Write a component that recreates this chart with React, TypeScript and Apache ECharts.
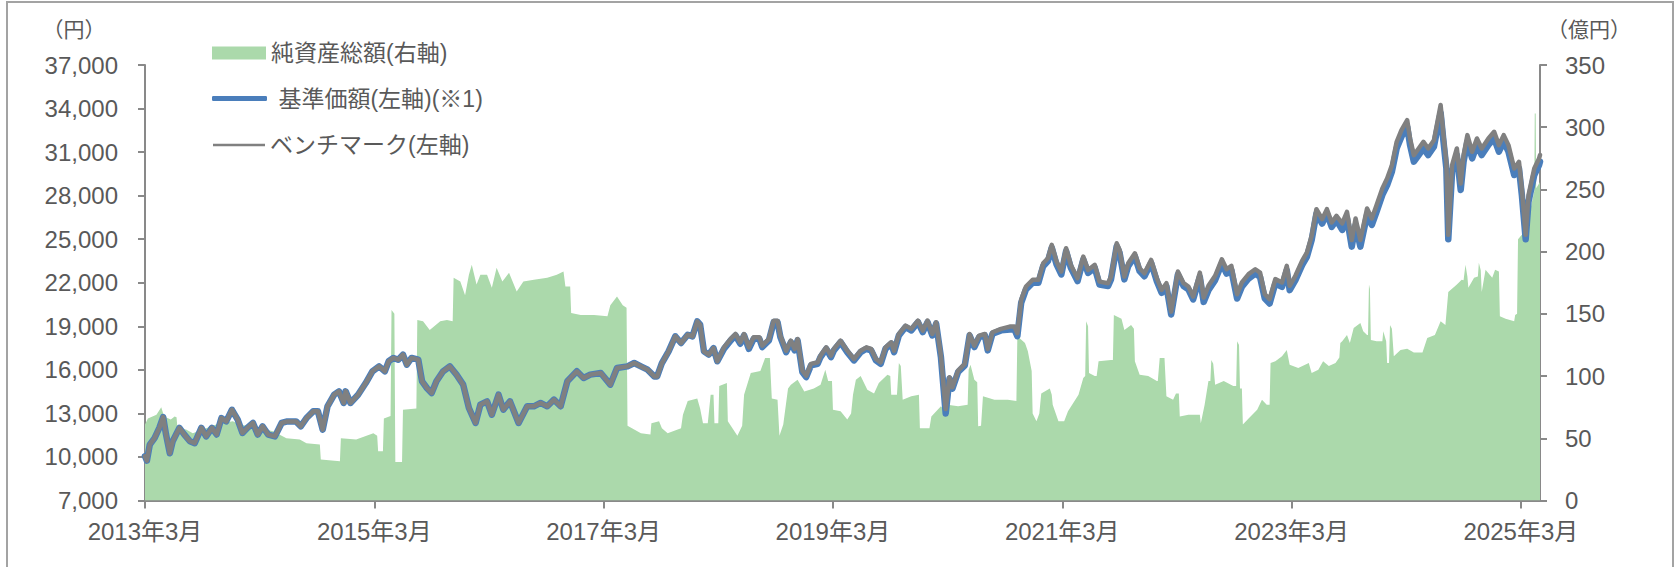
import React, { useEffect, useRef } from 'react';
import * as echarts from 'echarts';

// ---- tick labels ----
const xTickLabels = ['2013年3月', '2015年3月', '2017年3月', '2019年3月', '2021年3月', '2023年3月', '2025年3月'];
const leftTickValues = [7000, 10000, 13000, 16000, 19000, 22000, 25000, 28000, 31000, 34000, 37000];
const rightTickValues = [0, 50, 100, 150, 200, 250, 300, 350];
const monthCount = 147; // monthly slots: 2013年3月 ... 2025年5月

// ---- legend / series names ----
const NAME_ASSETS = '純資産総額(右軸)';
const NAME_NAV = '基準価額(左軸)(※1)';
const NAME_BM = 'ベンチマーク(左軸)';

// ---- line data: [months since 2013年3月, 基準価額, ベンチマーク] ----
const navPoints: [number, number, number][] = [
  [0, 10050, 10050], [0.2, 9750, 9750], [0.5, 10850, 10850], [1.0, 11300, 11300], [1.5, 12000, 12000],
  [1.9, 12750, 12750], [2.2, 11550, 11550], [2.6, 10250, 10250], [2.9, 11080, 11080], [3.6, 12000, 12000],
  [4.1, 11550, 11550], [4.7, 11080, 11080], [5.2, 10950, 10950], [5.9, 12000, 12000], [6.4, 11420, 11420],
  [7.0, 12000, 12000], [7.5, 11550, 11550], [8.0, 12680, 12680], [8.5, 12450, 12450], [9.1, 13250, 13250],
  [9.7, 12570, 12570], [10.2, 11650, 11650], [10.7, 12000, 12000], [11.3, 12340, 12340], [11.8, 11540, 11540],
  [12.3, 12110, 12110], [12.9, 11540, 11540], [13.6, 11420, 11420], [14.3, 12340, 12340], [14.9, 12450, 12450],
  [15.8, 12450, 12450], [16.3, 12110, 12110], [16.9, 12680, 12680], [17.6, 13140, 13140], [18.1, 13140, 13140],
  [18.6, 11880, 11880], [19.1, 13490, 13490], [19.8, 14290, 14290], [20.3, 14520, 14520], [20.8, 13720, 13720],
  [21.0, 14520, 14520], [21.5, 13720, 13720], [22.3, 14290, 14290], [23.1, 15090, 15090], [23.8, 15900, 15900],
  [24.5, 16240, 16240], [25.1, 15900, 15900], [25.5, 16590, 16590], [26.0, 16820, 16820], [26.5, 16700, 16700],
  [27.0, 17050, 17050], [27.4, 16360, 16360], [27.9, 16820, 16820], [28.6, 16700, 16700], [29.0, 15210, 15210],
  [29.5, 14750, 14750], [30.0, 14400, 14400], [30.5, 15210, 15210], [31.2, 15900, 15900], [31.9, 16240, 16240],
  [32.6, 15670, 15670], [33.3, 14980, 14980], [33.9, 13370, 13370], [34.6, 12340, 12340], [35.1, 13600, 13600],
  [35.8, 13830, 13830], [36.3, 12910, 12910], [37.0, 14290, 14290], [37.5, 13260, 13260], [38.2, 13830, 13830],
  [39.1, 12340, 12340], [40.0, 13490, 13490], [40.7, 13490, 13490], [41.4, 13720, 13720], [42.1, 13490, 13490],
  [42.8, 13950, 13950], [43.5, 13490, 13490], [44.2, 15210, 15210], [45.2, 15900, 15900], [45.9, 15440, 15440],
  [46.6, 15670, 15670], [47.7, 15780, 15780], [48.7, 14980, 14980], [49.4, 16130, 16130], [50.5, 16240, 16240],
  [51.2, 16470, 16470], [51.9, 16240, 16240], [52.6, 16010, 16010], [53.3, 15550, 15550], [53.6, 15550, 15550],
  [54.1, 16470, 16470], [54.8, 17270, 17270], [55.5, 18310, 18310], [56.1, 17850, 17850], [56.8, 18420, 18420],
  [57.3, 18310, 18310], [57.8, 19340, 19340], [58.1, 19110, 19110], [58.5, 17270, 17270], [59.0, 17050, 17050],
  [59.5, 17500, 17500], [59.9, 16590, 16590],
  [60.6, 17450, 17550], [61.3, 18030, 18130], [61.8, 18370, 18470], [62.3, 17800, 17900], [62.7, 18370, 18470],
  [63.2, 17450, 17550], [63.7, 18140, 18240], [64.3, 18140, 18240], [64.6, 17570, 17670], [65.3, 18030, 18130],
  [65.8, 19290, 19390], [66.2, 19290, 19390], [66.5, 18260, 18360], [67.1, 17220, 17320], [67.6, 17910, 18010],
  [68.0, 17340, 17440], [68.3, 18030, 18130], [68.8, 15850, 15950], [69.2, 15500, 15600], [69.7, 16310, 16410],
  [70.4, 16420, 16520], [70.7, 16880, 16980], [71.3, 17450, 17550], [71.8, 16880, 16980], [72.1, 17340, 17440],
  [72.8, 17910, 18010], [73.5, 17220, 17320], [74.2, 16650, 16750], [74.9, 17220, 17320], [75.5, 17450, 17550],
  [76.0, 17340, 17440], [76.5, 16650, 16750], [77.0, 16420, 16520], [77.5, 17450, 17550], [78.1, 17800, 17900],
  [78.4, 17220, 17320], [78.9, 18370, 18470], [79.6, 18950, 19050], [80.2, 18720, 18820], [80.9, 19290, 19390],
  [81.4, 18600, 18700], [81.9, 19290, 19390], [82.4, 18370, 18470], [82.8, 19180, 19280], [83.3, 16880, 16980],
  [83.8, 13000, 13300], [84.2, 15390, 15490], [84.5, 14700, 14800], [85.1, 15850, 15950], [85.8, 16310, 16410],
  [86.3, 18370, 18470], [86.8, 17570, 17670], [87.3, 18260, 18360], [87.9, 18370, 18470], [88.2, 17340, 17440],
  [88.7, 18490, 18590], [89.6, 18720, 18820],
  [90.5, 18780, 18980], [91.0, 18780, 18980], [91.3, 18320, 18520], [91.7, 20620, 20820], [92.2, 21540, 21740],
  [92.9, 22000, 22200], [93.5, 22000, 22200], [94.0, 23140, 23340], [94.5, 23490, 23690], [94.9, 24410, 24610],
  [95.4, 23260, 23460], [95.9, 22570, 22770], [96.4, 24180, 24380], [96.9, 23030, 23230], [97.6, 22110, 22310],
  [98.2, 23600, 23800], [98.7, 22680, 22880], [99.4, 23030, 23230], [99.9, 21880, 22080], [100.8, 21770, 21970],
  [101.1, 22230, 22430], [101.7, 24520, 24720], [102.0, 24060, 24260], [102.5, 22230, 22430], [102.9, 23140, 23340],
  [103.6, 23830, 24030], [104.1, 22800, 23000], [104.6, 22450, 22650], [105.3, 23370, 23570], [105.9, 22110, 22310],
  [106.4, 21310, 21510], [106.9, 21770, 21970], [107.4, 19810, 20010], [108.1, 22570, 22770], [108.7, 21770, 21970],
  [109.2, 21540, 21740], [109.7, 20850, 21050],
  [110.4, 22400, 22700], [110.8, 20680, 20980], [111.3, 21490, 21790], [112.0, 22180, 22480], [112.7, 23320, 23620],
  [113.2, 22630, 22930], [113.7, 22860, 23160], [114.3, 20910, 21210], [114.8, 21720, 22020], [115.5, 22290, 22590],
  [116.2, 22630, 22930], [116.7, 22400, 22700], [117.2, 20910, 21210], [117.7, 20570, 20870], [118.3, 21950, 22250],
  [119.0, 21720, 22020], [119.5, 22860, 23160], [119.8, 21490, 21790], [120.4, 22180, 22480], [121.1, 23210, 23510],
  [121.6, 23780, 24080], [122.1, 24930, 25230], [122.6, 26770, 27070], [123.2, 26080, 26380], [123.7, 26770, 27070],
  [124.2, 25850, 26150], [124.7, 26310, 26610],
  [125.3, 25640, 26090], [125.8, 26440, 26890], [126.3, 24490, 24940], [126.7, 25980, 26430], [127.2, 24490, 24940],
  [127.9, 26670, 27120], [128.4, 25980, 26430], [128.9, 26900, 27350], [129.5, 28050, 28500], [130.0, 28730, 29180],
  [130.5, 29650, 30100], [131.0, 31260, 31710], [131.5, 32060, 32510], [132.1, 32750, 33200], [132.4, 31490, 31940],
  [132.8, 30340, 30790], [133.3, 30800, 31250], [133.8, 31260, 31710], [134.3, 30800, 31250], [134.9, 31370, 31820],
  [135.2, 32410, 32860], [135.6, 33700, 34250], [135.9, 31720, 32170], [136.2, 29880, 30330], [136.4, 25000, 25300],
  [136.8, 29650, 30100], [137.3, 30800, 31250], [137.7, 28390, 28840], [138.0, 30340, 30790], [138.4, 31720, 32170],
  [138.9, 30570, 31020], [139.4, 31490, 31940], [139.9, 30800, 31250], [140.6, 31490, 31940], [141.2, 31950, 32400],
  [141.7, 31030, 31480], [142.2, 31720, 32170], [142.7, 31030, 31480], [143.3, 29420, 29870], [143.8, 29880, 30330],
  [144.1, 28050, 28500], [144.5, 25000, 25300], [144.8, 27590, 28040], [145.4, 29420, 29870], [145.9, 30110, 30560],
  [146.0, 30350, 30800],
];

// ---- net assets (億円): [months since 2013年3月, value] ----
const netAssetsPoints: [number, number][] = [
  [0, 61], [0.3, 66], [1.2, 69], [1.7, 75], [2.0, 67.6], [2.7, 65], [3.1, 67.6], [3.3, 67], [3.4, 58], [4.3, 57],
  [5.0, 54], [6.4, 58], [7.8, 62], [9.2, 63.6], [9.9, 61], [10.9, 59.6], [12.0, 58], [13.4, 55.6], [14.8, 50],
  [16.2, 49], [16.9, 46], [18.3, 45], [18.4, 33], [20.4, 31.5], [20.5, 50], [22.1, 49], [23.9, 54], [24.3, 52],
  [24.4, 39.5], [24.9, 39.5], [25.0, 66], [25.7, 68], [25.8, 153], [26.1, 150], [26.2, 31], [26.9, 31], [27.0, 73],
  [28.4, 74], [28.5, 145], [29.1, 144], [29.8, 137], [30.9, 144], [31.6, 145], [32.2, 144], [32.3, 179], [33.0, 176],
  [33.5, 165], [33.9, 181.5], [34.2, 189.5], [34.7, 173.5], [35.1, 181.5], [35.8, 181.5], [36.3, 171], [36.8, 187],
  [37.4, 176], [38.1, 183], [38.9, 168], [39.6, 176], [40.7, 177.5], [42.1, 179], [43.1, 181.5], [43.8, 184],
  [44.0, 172], [44.5, 172], [44.6, 150.6], [45.6, 149], [47.0, 149], [48.4, 148], [48.7, 157], [49.4, 164],
  [50.0, 157], [50.4, 155], [50.5, 60], [51.9, 54], [52.9, 53], [53.0, 62], [53.8, 63.6], [54.1, 58], [54.7, 54],
  [56.1, 58], [56.3, 69], [56.8, 80], [57.8, 82], [58.1, 74], [58.4, 62], [58.9, 62], [59.2, 85], [59.5, 85],
  [59.6, 62], [60.0, 62], [60.1, 92], [60.9, 94.5], [61.0, 63.6], [62.0, 52], [62.5, 60], [62.7, 85], [63.4, 102.5],
  [64.4, 104], [64.9, 114.5], [65.4, 114.5], [65.6, 82], [66.2, 81], [66.4, 52], [66.8, 61], [67.3, 90], [67.6, 93],
  [68.3, 97], [69.0, 87.7], [70.0, 90], [70.7, 93], [71.2, 105], [71.5, 96], [71.9, 96], [72.0, 73], [72.8, 71.7],
  [73.5, 65], [73.9, 70], [74.1, 85], [74.4, 97], [74.9, 100], [75.6, 89], [76.3, 86], [76.8, 94.5], [77.7, 101],
  [78.0, 100], [78.1, 85], [78.7, 85], [78.9, 110.5], [79.1, 108], [79.3, 81], [80.2, 83.7], [81.0, 85], [81.1, 58],
  [82.1, 58], [82.3, 67.6], [83.3, 75.7], [83.7, 71.7], [84.0, 77], [85.1, 75.7], [86.1, 77], [86.2, 105],
  [86.4, 109], [86.8, 97], [87.1, 95], [87.2, 59.6], [87.5, 60], [87.7, 83.7], [88.9, 81], [90.3, 81], [91.2, 80],
  [91.3, 132], [92.1, 126.6], [92.4, 120], [92.8, 104], [92.9, 70], [93.3, 63.6], [93.6, 70], [93.8, 86], [94.7, 90],
  [94.9, 85], [95.0, 77], [95.6, 63.6], [96.2, 63.6], [96.6, 71.7], [97.7, 85], [98.2, 98.5], [98.4, 100], [98.5, 144],
  [98.7, 140], [98.8, 102.5], [99.4, 100], [99.6, 100], [99.8, 112], [101.1, 113], [101.3, 113], [101.4, 149],
  [102.2, 146], [102.5, 137], [103.2, 141], [103.5, 138], [103.6, 112], [104.1, 101], [105.0, 100], [105.9, 96],
  [106.0, 96], [106.2, 114.5], [106.7, 114.5], [106.9, 83.7], [107.6, 81], [107.9, 86], [108.2, 86], [108.3, 67.6],
  [109.2, 69], [110.4, 69], [110.5, 62], [110.9, 77], [111.3, 96], [111.5, 96], [111.6, 113], [111.8, 110], [112.0, 93],
  [112.9, 96], [113.9, 92], [114.2, 92], [114.3, 128], [114.5, 125], [114.6, 90], [114.8, 90], [114.9, 61],
  [115.5, 66], [116.4, 73], [116.9, 81], [117.4, 77], [117.7, 77], [117.8, 110.5], [118.3, 112], [119.0, 116],
  [119.5, 121], [119.8, 109], [120.7, 106.5], [121.8, 110.5], [122.1, 102.5], [122.8, 105], [123.3, 112], [123.9, 108],
  [124.6, 110.5], [125.0, 115], [125.1, 126.6], [125.3, 128], [125.8, 133], [126.1, 126.6], [126.5, 138.6],
  [127.2, 142.7], [127.5, 136], [127.9, 133], [128.0, 133], [128.1, 173.5], [128.2, 170], [128.3, 129], [128.9, 128],
  [129.5, 128], [129.6, 136], [129.9, 128], [130.0, 110.5], [130.2, 110.5], [130.3, 141], [130.5, 138], [130.7, 116],
  [131.4, 121], [132.1, 122], [132.8, 119], [133.7, 119], [134.2, 130.6], [135.0, 133], [135.6, 144], [136.1, 141],
  [136.4, 167.6], [137.3, 173.5], [137.8, 177.5], [138.0, 177], [138.2, 189.5], [138.4, 180], [138.5, 171],
  [139.1, 179], [139.5, 180], [139.6, 191], [139.8, 185], [139.9, 167.6], [140.3, 185.5], [141.0, 179], [141.3, 185.5],
  [141.7, 184], [141.8, 148], [142.4, 146], [143.3, 144], [143.4, 149], [143.6, 150], [143.7, 210], [144.1, 213.6],
  [144.5, 216], [144.8, 227], [145.3, 245], [145.4, 248.5], [145.45, 311], [145.55, 311], [145.6, 251], [146.0, 256],
];

const FONT = "'Liberation Sans', Arial, 'Noto Sans CJK JP', sans-serif";
const TEXT = '#595959';
const AXIS = '#898989';
const GREEN = '#abd9ab';
const BLUE = '#4a7ebb';
const GRAY = '#808080';

function buildCategories(): string[] {
  const out: string[] = [];
  for (let i = 0; i < monthCount; i++) {
    if (i % 24 === 0) {
      out.push(xTickLabels[i / 24]);
    } else {
      const total = 2 + i; // 0-based month index from Jan 2013
      const y = 2013 + Math.floor(total / 12);
      const m = (total % 12) + 1;
      out.push(`${y}年${m}月`);
    }
  }
  return out;
}

export default function App() {
  const ref = useRef<HTMLDivElement>(null);

  useEffect(() => {
    document.body.style.margin = '0';
    if (!ref.current) return;
    const chart = echarts.init(ref.current, undefined, { renderer: 'svg' });
    const categories = buildCategories();
    const axisLineStyle = { color: AXIS, width: 2 };
    const legendText = { color: TEXT, fontSize: 23, fontFamily: FONT, lineHeight: 23 };

    const option: any = {
      animation: false,
      textStyle: { fontFamily: FONT },
      grid: { left: 145, right: 136, top: 65, bottom: 66.5, containLabel: false, outerBoundsMode: 'none' },
      xAxis: [
        {
          type: 'category',
          data: categories,
          boundaryGap: false,
          position: 'bottom',
          axisLine: { show: true, onZero: false, lineStyle: axisLineStyle },
          axisTick: { show: true, interval: (i: number) => i % 24 === 0, length: 8, lineStyle: axisLineStyle },
          axisLabel: {
            interval: (i: number) => i % 24 === 0,
            color: TEXT,
            fontSize: 24,
            fontFamily: FONT,
            margin: 19,
          },
          splitLine: { show: false },
        },
        { type: 'value', min: 0, max: monthCount - 1, show: false },
      ],
      yAxis: [
        {
          type: 'value',
          position: 'left',
          min: leftTickValues[0],
          max: leftTickValues[leftTickValues.length - 1],
          interval: leftTickValues[1] - leftTickValues[0],
          axisLine: { show: true, onZero: false, lineStyle: axisLineStyle },
          axisTick: { show: true, length: 7, lineStyle: axisLineStyle },
          axisLabel: {
            color: TEXT,
            fontSize: 24,
            fontFamily: FONT,
            margin: 27,
            formatter: (v: number) => v.toLocaleString('en-US'),
          },
          splitLine: { show: false },
        },
        {
          type: 'value',
          position: 'right',
          min: rightTickValues[0],
          max: rightTickValues[rightTickValues.length - 1],
          interval: rightTickValues[1] - rightTickValues[0],
          axisLine: { show: true, onZero: false, lineStyle: axisLineStyle },
          axisTick: { show: true, length: 7, lineStyle: axisLineStyle },
          axisLabel: { color: TEXT, fontSize: 24, fontFamily: FONT, margin: 25 },
          splitLine: { show: false },
        },
      ],
      legend: [
        {
          data: [{ name: NAME_ASSETS, icon: 'rect' }],
          left: 212, top: 41.5, padding: 0,
          itemWidth: 54, itemHeight: 13,
          selectedMode: false,
          itemStyle: { borderWidth: 0 },
          textStyle: legendText,
        },
        {
          data: [{ name: NAME_NAV, icon: 'roundRect' }],
          left: 212, top: 87, padding: 0,
          itemWidth: 55, itemHeight: 5,
          selectedMode: false,
          itemStyle: { borderWidth: 0 },
          formatter: (n: string) => ' ' + n,
          textStyle: legendText,
        },
        {
          data: [{ name: NAME_BM, icon: 'rect' }],
          left: 213, top: 133.5, padding: 0,
          itemWidth: 52, itemHeight: 2.5,
          selectedMode: false,
          itemStyle: { borderWidth: 0 },
          textStyle: legendText,
        },
      ],
      graphic: [
        {
          type: 'text', x: 74, y: 29,
          style: {
            text: '（円）', fill: TEXT, fontSize: 21, fontFamily: FONT,
            align: 'center', verticalAlign: 'middle', textAlign: 'center', textVerticalAlign: 'middle',
          },
        },
        {
          type: 'text', x: 1589, y: 29,
          style: {
            text: '（億円）', fill: TEXT, fontSize: 21, fontFamily: FONT,
            align: 'center', verticalAlign: 'middle', textAlign: 'center', textVerticalAlign: 'middle',
          },
        },
      ],
      series: [
        {
          name: NAME_ASSETS,
          type: 'line',
          xAxisIndex: 1,
          yAxisIndex: 1,
          data: netAssetsPoints,
          showSymbol: false,
          symbol: 'none',
          itemStyle: { color: GREEN },
          lineStyle: { width: 0, color: GREEN },
          areaStyle: { color: GREEN, opacity: 1 },
          silent: true,
        },
        {
          name: NAME_NAV,
          type: 'line',
          xAxisIndex: 1,
          yAxisIndex: 0,
          data: navPoints.map((p) => [p[0], p[1]]),
          showSymbol: false,
          symbol: 'none',
          itemStyle: { color: BLUE },
          lineStyle: { width: 6.5, color: BLUE, join: 'round', cap: 'round' },
          silent: true,
        },
        {
          name: NAME_BM,
          type: 'line',
          xAxisIndex: 1,
          yAxisIndex: 0,
          data: navPoints.map((p) => [p[0], p[2]]),
          showSymbol: false,
          symbol: 'none',
          itemStyle: { color: GRAY },
          lineStyle: { width: 4.5, color: GRAY, join: 'round', cap: 'round' },
          silent: true,
        },
      ],
    };
    chart.setOption(option);
    return () => chart.dispose();
  }, []);

  return (
    <div style={{ position: 'relative', width: 1676, height: 567, overflow: 'hidden', background: '#ffffff' }}>
      <div
        style={{
          position: 'absolute', left: 6, top: 1, width: 1668, height: 640,
          border: '2px solid #a3a3a3', boxSizing: 'border-box', pointerEvents: 'none',
        }}
      />
      <div ref={ref} style={{ position: 'absolute', left: 0, top: 0, width: 1676, height: 567 }} />
    </div>
  );
}
